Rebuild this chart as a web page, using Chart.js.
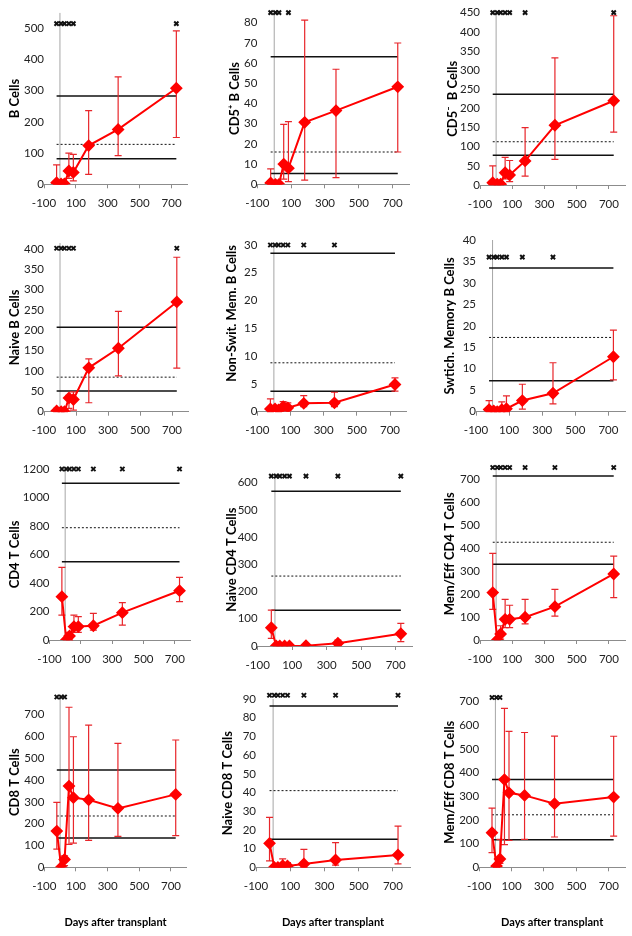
<!DOCTYPE html>
<html>
<head>
<meta charset="utf-8">
<script src="https://cdn.jsdelivr.net/npm/chart.js@4.4.1/dist/chart.umd.min.js"></script>
<style>
body { margin: 0; background: #fff; width: 632px; height: 936px; position: relative; overflow: hidden; }
canvas { position: absolute; }
</style>
</head>
<body>
<script>
// sampling days (pre-transplant first)
const days = [-21, 7, 28, 56, 84, 180, 365, 730];
const xTicks = [-100, 100, 300, 500, 700];
const xTitle = 'Days after transplant';

// each panel: mean, lower / upper error, reference lines [upper, median, lower], significance marks
const bMean = [5, 1, 1, 43, 38, 124, 176, 308];
const bLow = [0, 0, 0, 19, 11, 32, 92, 150];
const bHigh = [62, 3, 3, 100, 96, 236, 344, 492];
const bRef = [283, 128, 82];
const bSig = [1, 1, 1, 1, 1, 0, 0, 1];

const cd5pMean = [0.7, 0, 0, 10, 8, 30.7, 36.5, 48.3];
const cd5pLow = [0, 0, 0, 2.6, 1.3, 2.1, 3.3, 16];
const cd5pHigh = [7.6, 0.5, 0.5, 29.7, 31, 81.3, 57, 70];
const cd5pRef = [63.2, 16, 5.3];
const cd5pSig = [1, 1, 1, 0, 1, 0, 0, 0];

const cd5nMean = [6, 2, 2, 32, 26, 63, 156, 220];
const cd5nLow = [0, 0, 0, 16, 9, 23, 67, 138];
const cd5nHigh = [50, 4, 4, 72, 64, 150, 332, 442];
const cd5nRef = [237, 113, 78];
const cd5nSig = [1, 1, 1, 1, 1, 1, 0, 1];

const naiveBMean = [2, 0, 0, 34, 30, 108, 156, 270];
const naiveBLow = [0, 0, 0, 8, 4, 22, 88, 107];
const naiveBHigh = [8, 1, 1, 40, 49, 130, 247, 380];
const naiveBRef = [208, 85, 51];
const naiveBSig = [1, 1, 1, 1, 1, 0, 0, 1];

const nsMemMean = [0.5, 0.5, 0.3, 0.9, 0.7, 1.5, 1.6, 4.9];
const nsMemLow = [0, 0.2, 0, 0.4, 0.3, 0.9, 0.9, 3.7];
const nsMemHigh = [2.3, 0.9, 0.6, 1.8, 1.6, 2.9, 3.5, 6.1];
const nsMemRef = [28.5, 8.8, 3.7];
const nsMemSig = [1, 1, 1, 1, 1, 1, 1, 0];

const swMemMean = [0.5, 0.2, 0, 0.5, 0.7, 2.6, 4.3, 12.8];
const swMemLow = [0, 0, 0, 0, 0, 0.6, 1.8, 7.4];
const swMemHigh = [2.6, 0.5, 0.3, 2.3, 3.7, 6.4, 11.4, 19];
const swMemRef = [33.5, 17.3, 7.2];
const swMemSig = [1, 1, 1, 1, 1, 1, 1, 0];

const cd4Mean = [304, 0, 28, 94, 94, 100, 192, 346];
const cd4Low = [175, 0, 0, 54, 54, 70, 105, 269];
const cd4High = [510, 5, 54, 175, 164, 187, 262, 440];
const cd4Ref = [1100, 788, 550];
const cd4Sig = [1, 1, 1, 1, 1, 1, 1, 1];

const naiveCd4Mean = [67, 0, 0, 0, 0, 1, 10, 45];
const naiveCd4Low = [28, 0, 0, 0, 0, 0, 1, 16];
const naiveCd4High = [132, 2, 2, 2, 2, 3, 22, 83];
const naiveCd4Ref = [569, 257, 131];
const naiveCd4Sig = [1, 1, 1, 1, 1, 1, 1, 1];

const memCd4Mean = [206, 0, 26, 90, 90, 99, 145, 287];
const memCd4Low = [133, 0, 4, 54, 54, 70, 104, 184];
const memCd4High = [377, 5, 62, 177, 151, 177, 220, 365];
const memCd4Ref = [713, 425, 329];
const memCd4Sig = [1, 1, 1, 1, 1, 1, 1, 1];

const cd8Mean = [166, 0, 36, 372, 319, 309, 270, 334];
const cd8Low = [83, 0, 8, 105, 111, 123, 142, 145];
const cd8High = [297, 5, 53, 733, 598, 651, 568, 583];
const cd8Ref = [446, 235, 134];
const cd8Sig = [1, 1, 1, 0, 0, 0, 0, 0];

const naiveCd8Mean = [12.8, 0, 0, 0.9, 0.7, 1.8, 3.9, 6.6];
const naiveCd8Low = [3.4, 0, 0, 0, 0, 0, 1.2, 1.8];
const naiveCd8High = [26.7, 1, 1.8, 4.5, 2.5, 9.6, 13.2, 22];
const naiveCd8Ref = [86.3, 41, 15];
const naiveCd8Sig = [1, 1, 1, 1, 1, 1, 1, 1];

const memCd8Mean = [146, 5, 35, 371, 315, 304, 269, 297];
const memCd8Low = [62, 0, 17, 96, 114, 118, 128, 132];
const memCd8High = [250, 10, 118, 672, 575, 570, 555, 554];
const memCd8Ref = [371, 222, 117];
const memCd8Sig = [1, 1, 1, 0, 0, 0, 0, 0];

// box = canvas [x, y, w, h]; plot = chart area [left, top, right, bottom] in page px
const panels = [
  { title: 'B Cells', mean: bMean, low: bLow, high: bHigh, ref: bRef, sig: bSig, yMax: 550, yStep: 100, markY: 515, box: [0, 0, 210, 230], plot: [44, 12.7, 187.5, 184.3], titleX: 15 },
  { title: 'CD5⁺ B Cells', mean: cd5pMean, low: cd5pLow, high: cd5pHigh, ref: cd5pRef, sig: cd5pSig, yMax: 85, yStep: 10, markY: 85, box: [210, 0, 210, 230], plot: [257.3, 12.7, 409.6, 184.3], titleX: 25 },
  { title: 'CD5⁻  B Cells', mean: cd5nMean, low: cd5nLow, high: cd5nHigh, ref: cd5nRef, sig: cd5nSig, yMax: 450, yStep: 50, markY: 450, box: [420, 0, 212, 230], plot: [480, 12.7, 629, 185], titleX: 33 },
  { title: 'Naive B Cells', mean: naiveBMean, low: naiveBLow, high: naiveBHigh, ref: naiveBRef, sig: naiveBSig, yMax: 415, yStep: 50, markY: 402, box: [0, 230, 210, 230], plot: [44, 243, 188, 411.7], titleX: 15 },
  { title: 'Non-Swit. Mem. B Cells', mean: nsMemMean, low: nsMemLow, high: nsMemHigh, ref: nsMemRef, sig: nsMemSig, yMax: 30, yStep: 5, markY: 30, box: [210, 230, 210, 230], plot: [257.3, 245, 406.6, 411.7], titleX: 21.7, titleAlign: 'end' },
  { title: 'Swtich. Memory B Cells', mean: swMemMean, low: swMemLow, high: swMemHigh, ref: swMemRef, sig: swMemSig, yMax: 40, yStep: 5, markY: 36, box: [420, 230, 212, 230], plot: [476, 240, 626, 411.7], titleX: 30 },
  { title: 'CD4 T Cells', mean: cd4Mean, low: cd4Low, high: cd4High, ref: cd4Ref, sig: cd4Sig, yMax: 1200, yStep: 200, markY: 1200, box: [0, 460, 210, 230], plot: [49.5, 469, 190.5, 640], titleX: 15 },
  { title: 'Naive CD4 T Cells', mean: naiveCd4Mean, low: naiveCd4Low, high: naiveCd4High, ref: naiveCd4Ref, sig: naiveCd4Sig, yMax: 635, yStep: 100, markY: 624, box: [210, 460, 210, 230], plot: [257.7, 473.2, 412.9, 646], titleX: 21.7 },
  { title: 'Mem/Eff CD4 T Cells', mean: memCd4Mean, low: memCd4Low, high: memCd4High, ref: memCd4Ref, sig: memCd4Sig, yMax: 750, yStep: 100, markY: 750, box: [420, 460, 212, 230], plot: [480, 467.5, 629.3, 640], titleX: 30 },
  { title: 'CD8 T Cells', mean: cd8Mean, low: cd8Low, high: cd8High, ref: cd8Ref, sig: cd8Sig, yMax: 780, yStep: 100, markY: 780, box: [0, 690, 210, 246], plot: [44.3, 694.6, 186.8, 867.3], titleX: 15, xLabel: true },
  { title: 'Naive CD8 T Cells', mean: naiveCd8Mean, low: naiveCd8Low, high: naiveCd8High, ref: naiveCd8Ref, sig: naiveCd8Sig, yMax: 90, yStep: 10, markY: 92, box: [210, 690, 210, 246], plot: [256, 699, 410, 867.3], titleX: 18, xLabel: true },
  { title: 'Mem/Eff CD8 T Cells', mean: memCd8Mean, low: memCd8Low, high: memCd8High, ref: memCd8Ref, sig: memCd8Sig, yMax: 720, yStep: 100, markY: 718, box: [420, 690, 212, 246], plot: [479.2, 694.5, 625.2, 867.3], titleX: 30, xLabel: true }
];

const tickFont = { family: 'Lato', size: 11.5 };
const titleFont = { family: 'Lato', size: 13, weight: 'bold' };

// error bars drawn just before the red series
function errorBars(p) {
  return {
    id: 'errorBars',
    beforeDatasetDraw(chart, args) {
      if (args.index !== 0) return;
      const { ctx, scales: { x, y } } = chart;
      ctx.save();
      ctx.strokeStyle = '#e8262b';
      ctx.lineWidth = 1.2;
      days.forEach((d, k) => {
        const px = x.getPixelForValue(d);
        const top = y.getPixelForValue(p.high[k]);
        const bot = y.getPixelForValue(p.low[k]);
        ctx.beginPath();
        ctx.moveTo(px, top); ctx.lineTo(px, bot);
        ctx.moveTo(px - 3.5, top); ctx.lineTo(px + 3.5, top);
        ctx.moveTo(px - 3.5, bot); ctx.lineTo(px + 3.5, bot);
        ctx.stroke();
      });
      ctx.restore();
    }
  };
}

panels.forEach(p => {
  const [bx, by, bw, bh] = p.box;
  const [pl, pt, pr, pb] = p.plot;
  const cv = document.createElement('canvas');
  cv.width = bw; cv.height = bh;
  cv.style.left = bx + 'px';
  cv.style.top = by + 'px';
  document.body.appendChild(cv);

  const meanPts = days.map((d, k) => ({ x: d, y: p.mean[k] }));
  const marks = days.filter((d, k) => p.sig[k]).map(d => ({ x: d, y: p.markY }));
  const refSets = p.ref.map((v, k) => ({
    data: [{ x: days[0], y: v }, { x: days[days.length - 1], y: v }],
    showLine: true,
    borderColor: '#111',
    borderWidth: k === 1 ? 1 : 1.5,
    borderDash: k === 1 ? [2, 2] : [],
    pointRadius: 0
  }));

  new Chart(cv, {
    type: 'scatter',
    data: {
      datasets: [
        { data: meanPts, showLine: true, borderColor: '#ff0000', borderWidth: 2,
          pointStyle: 'rectRot', pointRadius: 5, pointBackgroundColor: '#ff0000', pointBorderColor: '#ff0000' },
        { data: marks, pointStyle: 'crossRot', pointRadius: 3, borderColor: '#111', borderWidth: 2, clip: false },
        ...refSets,
        { data: [{ x: 0, y: 0 }, { x: 0, y: p.yMax }], showLine: true, borderColor: '#a6a6a6', borderWidth: 1, pointRadius: 0 }
      ]
    },
    options: {
      responsive: false,
      animation: false,
      devicePixelRatio: 1,
      layout: { padding: { top: pt - by, right: bx + bw - pr, left: 0, bottom: 0 } },
      plugins: { legend: { display: false }, tooltip: { enabled: false } },
      scales: {
        x: {
          type: 'linear', min: -100, max: 800,
          afterBuildTicks: s => { s.ticks = xTicks.map(v => ({ value: v })); },
          afterFit: s => { s.height = by + bh - pb; s.paddingLeft = 0; s.paddingRight = 0; },
          ticks: { font: tickFont, color: '#222', padding: 8, callback: v => String(v) },
          grid: { display: true, drawOnChartArea: false, tickLength: 4, color: '#8c8c8c' },
          border: { color: '#8c8c8c', width: 1 },
          title: { display: !!p.xLabel, text: xTitle, color: '#000',
            font: { family: 'Lato', size: 11, weight: 'bold' }, padding: { top: 0, bottom: 7 } }
        },
        y: {
          min: 0, max: p.yMax,
          ticks: { font: tickFont, color: '#222', padding: 0, callback: v => String(v) },
          afterBuildTicks: s => {
            const t = [];
            for (let v = 0; v <= p.yMax + 1e-9; v += p.yStep) t.push({ value: Math.round(v * 1000) / 1000 });
            s.ticks = t;
          },
          afterFit: s => { s.width = pl - bx; s.paddingTop = 0; s.paddingBottom = 0; },
          grid: { display: false, drawTicks: false },
          border: { display: false },
          title: { display: true, text: p.title, color: '#000', font: titleFont,
            align: p.titleAlign || 'center',
            padding: { top: p.titleX - 7.8, bottom: 0 } }
        }
      }
    },
    plugins: [errorBars(p)]
  });
});
</script>
</body>
</html>
